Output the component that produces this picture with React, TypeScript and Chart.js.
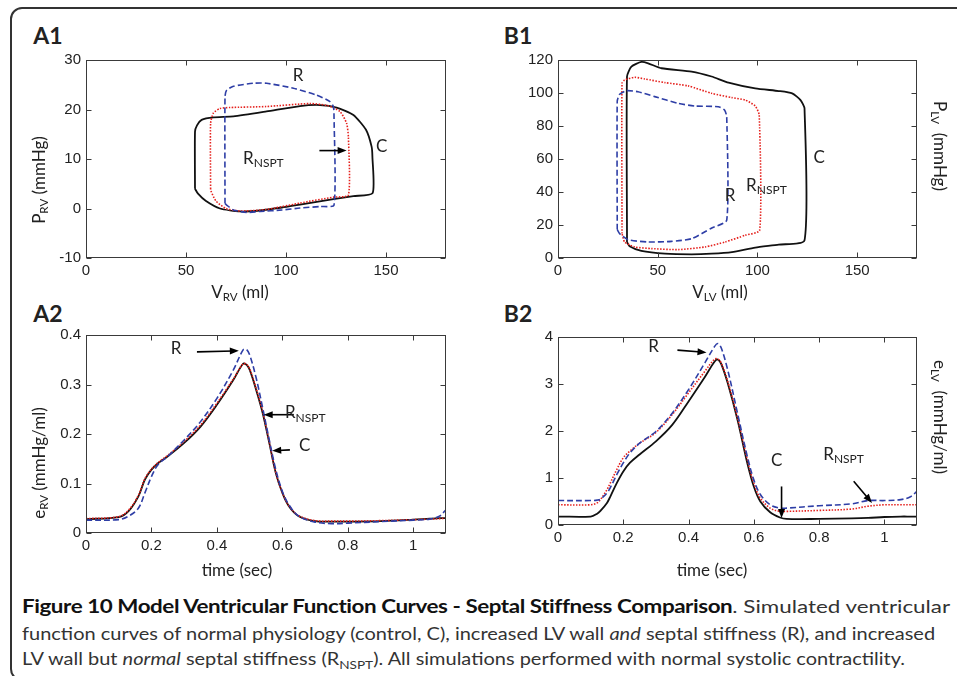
import React, { useEffect, useLayoutEffect, useRef } from "react";
import { Chart, registerables } from "chart.js";
Chart.register(...registerables);

// ---------- Data ----------
// A1: RV pressure-volume loops (V in ml, P in mmHg)
const A1_C_V = [54.5, 54.5, 55.5, 57.8, 63.7, 73.7, 90.3, 107, 117, 125.3, 133.7, 140, 142.8, 143.2, 143.3, 133.7, 123.7, 107, 98, 87, 77, 67, 60, 56, 54.5];
const A1_C_P = [4, 15.5, 16.8, 17.9, 18.4, 18.6, 19.6, 20.7, 20.9, 20.4, 18.9, 15.9, 12.5, 10.5, 3.1, 2.5, 1.9, 0.8, 0.2, -0.4, -0.6, 0, 1.5, 3, 4];
const A1_N_V = [62.3, 62.3, 63.7, 67, 72, 90, 112, 120.7, 127, 130.3, 131.2, 131.2, 123.7, 107, 90, 77, 70, 65, 62.5, 62.3];
const A1_N_P = [4, 17.2, 19.3, 20.2, 20.4, 20.6, 21.2, 20.8, 19.6, 17.2, 14.4, 2.7, 2.3, 1.1, -0.2, -0.5, 0, 1.5, 3.5, 4];
const A1_R_V = [69.5, 69.5, 70.3, 73.7, 83.7, 90.3, 103.7, 115.3, 122, 123.7, 124, 124, 117, 107, 98, 87, 80.3, 73.7, 70.3, 69.5];
const A1_R_P = [1, 22.6, 23.9, 24.7, 25.3, 25.3, 24.3, 22.9, 21.6, 20.6, 19, 0.7, 0.4, 0.1, -0.3, -0.6, -0.8, -0.3, 0.7, 1];

// B1: LV pressure-volume loops
const B1_C_V = [34.6, 34.6, 36.8, 41.8, 45.2, 51.9, 67, 77, 85.5, 98.9, 110.7, 117.4, 121.6, 123.6, 123.6, 110.7, 98.9, 87.2, 77, 67, 53.6, 41.8, 35.9, 34.6];
const B1_C_P = [9.7, 110, 116, 118.8, 118, 115, 113, 110, 106.3, 102.8, 101.2, 99.8, 95.7, 90.7, 10.7, 8.1, 6.3, 3.6, 2.6, 2.2, 2.6, 4.3, 7.1, 9.7];
const B1_N_V = [32.1, 32.1, 33.4, 38.5, 43.5, 53.6, 65.3, 77, 87.2, 93.9, 98.9, 100.9, 101.1, 93.9, 83.8, 73.7, 60.3, 46.9, 38.5, 33.4, 32.1];
const B1_N_P = [14.8, 105.9, 107.9, 109.5, 108.5, 106.3, 104.3, 99.8, 97.2, 95.7, 92.1, 86.6, 16.8, 13.8, 9.7, 6.7, 5.1, 5.7, 6.7, 9.7, 14.8];
const B1_R_V = [29.7, 29.7, 30.9, 34.3, 40.1, 48.5, 60.3, 68.7, 80.4, 83.5, 84.6, 84.6, 77.1, 67, 56.9, 45.2, 35.1, 30.9, 29.7];
const B1_R_P = [17.2, 95, 99.2, 101.4, 100.8, 97.8, 93.7, 92.1, 91.7, 89.7, 85.6, 22.9, 18.2, 11.7, 10.1, 9.7, 11.1, 14.8, 17.2];

// A2: RV elastance vs time
const A2_T = [0, 0.1, 0.13, 0.16, 0.18, 0.2, 0.22, 0.25, 0.3, 0.35, 0.4, 0.45, 0.48, 0.49, 0.5, 0.52, 0.54, 0.56, 0.58, 0.6, 0.62, 0.65, 0.7, 0.75, 0.8, 0.9, 1.0, 1.05, 1.08, 1.1];
const A2_C = [0.028, 0.032, 0.044, 0.074, 0.108, 0.128, 0.141, 0.155, 0.182, 0.215, 0.259, 0.309, 0.342, 0.34, 0.33, 0.289, 0.242, 0.182, 0.121, 0.081, 0.054, 0.034, 0.024, 0.023, 0.023, 0.024, 0.027, 0.029, 0.03, 0.03];
const A2_N = [0.029, 0.033, 0.046, 0.076, 0.11, 0.129, 0.142, 0.157, 0.185, 0.218, 0.262, 0.311, 0.342, 0.341, 0.332, 0.292, 0.245, 0.184, 0.122, 0.082, 0.055, 0.035, 0.025, 0.024, 0.024, 0.025, 0.027, 0.028, 0.029, 0.03];
const A2_R = [0.026, 0.027, 0.034, 0.05, 0.081, 0.114, 0.138, 0.155, 0.188, 0.225, 0.272, 0.329, 0.37, 0.371, 0.36, 0.313, 0.252, 0.188, 0.128, 0.084, 0.057, 0.034, 0.022, 0.019, 0.02, 0.023, 0.026, 0.028, 0.034, 0.047];

// B2: LV elastance vs time
const B2_T = [0, 0.1, 0.12, 0.13, 0.15, 0.16, 0.18, 0.2, 0.22, 0.25, 0.3, 0.35, 0.4, 0.45, 0.48, 0.49, 0.5, 0.52, 0.55, 0.58, 0.6, 0.62, 0.65, 0.68, 0.7, 0.8, 0.9, 0.95, 1.0, 1.05, 1.08, 1.1];
const B2_C = [0.18, 0.18, 0.24, 0.3, 0.47, 0.6, 0.89, 1.14, 1.32, 1.5, 1.78, 2.13, 2.63, 3.15, 3.48, 3.52, 3.43, 3.02, 2.24, 1.32, 0.82, 0.5, 0.27, 0.16, 0.13, 0.13, 0.14, 0.15, 0.17, 0.18, 0.18, 0.18];
const B2_N = [0.43, 0.43, 0.47, 0.54, 0.75, 0.89, 1.18, 1.43, 1.57, 1.74, 1.97, 2.35, 2.81, 3.27, 3.53, 3.53, 3.45, 3.06, 2.28, 1.39, 0.89, 0.57, 0.36, 0.29, 0.29, 0.31, 0.34, 0.4, 0.43, 0.43, 0.43, 0.43];
const B2_R = [0.52, 0.52, 0.53, 0.55, 0.68, 0.79, 1.07, 1.32, 1.53, 1.74, 1.99, 2.38, 2.88, 3.45, 3.8, 3.86, 3.77, 3.3, 2.38, 1.46, 0.96, 0.65, 0.43, 0.36, 0.36, 0.41, 0.45, 0.52, 0.52, 0.54, 0.6, 0.72];

// Tick values
const VOL_TICKS = [0, 50, 100, 150];
const PRV_TICKS = [-10, 0, 10, 20, 30];
const PLV_TICKS = [0, 20, 40, 60, 80, 100, 120];
const TIME_TICKS = [0, 0.2, 0.4, 0.6, 0.8, 1];
const ERV_TICKS = [0, 0.1, 0.2, 0.3, 0.4];
const ELV_TICKS = [0, 1, 2, 3, 4];

// Annotations (data coordinates)
type Note = { text: string; sub?: string; x: number; y: number };
type Arrow = { x1: number; y1: number; x2: number; y2: number };
const A1_NOTES: Note[] = [
  { text: "R", x: 106, y: 26.8 },
  { text: "R", sub: "NSPT", x: 88.7, y: 10.1 },
  { text: "C", x: 147.8, y: 12.5 },
];
const A1_ARROWS: Arrow[] = [{ x1: 116.7, y1: 11.7, x2: 130.3, y2: 11.7 }];
const B1_NOTES: Note[] = [
  { text: "R", x: 86.3, y: 38 },
  { text: "R", sub: "NSPT", x: 104.5, y: 44 },
  { text: "C", x: 131, y: 61 },
];
const B1_ARROWS: Arrow[] = [];
const A2_NOTES: Note[] = [
  { text: "R", x: 0.275, y: 0.373 },
  { text: "R", sub: "NSPT", x: 0.67, y: 0.243 },
  { text: "C", x: 0.668, y: 0.176 },
];
const A2_ARROWS: Arrow[] = [
  { x1: 0.339, y1: 0.366, x2: 0.467, y2: 0.368 },
  { x1: 0.635, y1: 0.239, x2: 0.543, y2: 0.239 },
  { x1: 0.623, y1: 0.168, x2: 0.569, y2: 0.166 },
];
const B2_NOTES: Note[] = [
  { text: "R", x: 0.293, y: 3.79 },
  { text: "C", x: 0.67, y: 1.38 },
  { text: "R", sub: "NSPT", x: 0.875, y: 1.5 },
];
const B2_ARROWS: Arrow[] = [
  { x1: 0.366, y1: 3.72, x2: 0.455, y2: 3.67 },
  { x1: 0.685, y1: 0.82, x2: 0.685, y2: 0.15 },
  { x1: 0.906, y1: 0.93, x2: 0.962, y2: 0.47 },
];

// ---------- Styles ----------
const BLUE = "#2e3ea6";
const RED = "#e5211d";
const BLACK = "#111111";
const TEXT_FONT = "Lato, 'Open Sans', sans-serif";

const zip = (xs: number[], ys: number[]) => xs.map((x, i) => ({ x, y: ys[i] }));

function frame(notes: Note[], arrows: Arrow[]) {
  return {
    id: "frame",
    afterDatasetsDraw(chart: any) {
      const { ctx, chartArea: a, scales } = chart;
      const xs = scales.x;
      const ys = scales.y;
      ctx.save();
      ctx.strokeStyle = "#3a3a3a";
      ctx.lineWidth = 1;
      const l = Math.round(a.left) + 0.5;
      const t = Math.round(a.top) + 0.5;
      const r = Math.round(a.right) - 0.5;
      const b = Math.round(a.bottom) - 0.5;
      ctx.strokeRect(l, t, r - l, b - t);
      const L = 5;
      ctx.beginPath();
      xs.ticks.forEach((tk: any) => {
        const px = Math.round(xs.getPixelForValue(tk.value)) + 0.5;
        ctx.moveTo(px, b);
        ctx.lineTo(px, b - L);
        ctx.moveTo(px, t);
        ctx.lineTo(px, t + L);
      });
      ys.ticks.forEach((tk: any) => {
        const py = Math.round(ys.getPixelForValue(tk.value)) + 0.5;
        ctx.moveTo(l, py);
        ctx.lineTo(l + L, py);
        ctx.moveTo(r, py);
        ctx.lineTo(r - L, py);
      });
      ctx.stroke();

      ctx.strokeStyle = "#000";
      ctx.fillStyle = "#000";
      ctx.lineWidth = 1.6;
      arrows.forEach((ar) => {
        const x1 = xs.getPixelForValue(ar.x1);
        const y1 = ys.getPixelForValue(ar.y1);
        const x2 = xs.getPixelForValue(ar.x2);
        const y2 = ys.getPixelForValue(ar.y2);
        const ang = Math.atan2(y2 - y1, x2 - x1);
        const h = 9;
        const w = 3.5;
        const c = Math.cos(ang);
        const s = Math.sin(ang);
        ctx.beginPath();
        ctx.moveTo(x1, y1);
        ctx.lineTo(x2 - h * c * 0.6, y2 - h * s * 0.6);
        ctx.stroke();
        ctx.beginPath();
        ctx.moveTo(x2, y2);
        ctx.lineTo(x2 - h * c + w * s, y2 - h * s - w * c);
        ctx.lineTo(x2 - h * c - w * s, y2 - h * s + w * c);
        ctx.closePath();
        ctx.fill();
      });

      ctx.fillStyle = "#222";
      ctx.textBaseline = "middle";
      ctx.textAlign = "left";
      notes.forEach((n) => {
        const px = xs.getPixelForValue(n.x);
        const py = ys.getPixelForValue(n.y);
        ctx.font = `17px ${TEXT_FONT}`;
        const w1 = ctx.measureText(n.text).width;
        let w2 = 0;
        if (n.sub) {
          ctx.font = `12px ${TEXT_FONT}`;
          w2 = ctx.measureText(n.sub).width;
        }
        const x0 = px - (w1 + w2) / 2;
        ctx.font = `17px ${TEXT_FONT}`;
        ctx.fillText(n.text, x0, py);
        if (n.sub) {
          ctx.font = `12px ${TEXT_FONT}`;
          ctx.fillText(n.sub, x0 + w1, py + 5);
        }
      });
      ctx.restore();
    },
  };
}

type PanelProps = {
  left: number;
  top: number;
  width: number;
  height: number;
  yWidth: number;
  padTop: number;
  padRight: number;
  padBottom: number;
  xMin: number;
  xMax: number;
  yMin: number;
  yMax: number;
  xTicks: number[];
  yTicks: number[];
  series: { data: { x: number; y: number }[]; color: string; dash: number[]; width: number; tension: number }[];
  notes: Note[];
  arrows: Arrow[];
};

function Panel(p: PanelProps) {
  const ref = useRef<HTMLCanvasElement | null>(null);
  useEffect(() => {
    if (!ref.current) return;
    const tickFont = { family: "'Liberation Sans', Arial, sans-serif", size: 15 };
    const chart = new Chart(ref.current, {
      type: "scatter",
      data: {
        datasets: p.series.map((s) => ({
          data: s.data,
          showLine: true,
          borderColor: s.color,
          borderDash: s.dash,
          borderWidth: s.width,
          pointRadius: 0,
          tension: s.tension,
          fill: false,
        })),
      },
      options: {
        animation: false,
        responsive: false,
        events: [],
        layout: { padding: { left: 0, right: p.padRight, top: p.padTop, bottom: p.padBottom } },
        plugins: { legend: { display: false }, tooltip: { enabled: false } },
        scales: {
          x: {
            type: "linear",
            min: p.xMin,
            max: p.xMax,
            afterBuildTicks: (s: any) => {
              s.ticks = p.xTicks.map((v) => ({ value: v }));
            },
            afterFit: (s: any) => {
              s.height = 30;
              s.paddingLeft = 0;
              s.paddingRight = 0;
            },
            grid: { display: false, drawTicks: false },
            border: { display: false },
            ticks: {
              font: tickFont,
              color: "#222",
              padding: 4,
              maxRotation: 0,
              autoSkip: false,
              callback: (v: any) => String(v),
            },
          },
          y: {
            type: "linear",
            min: p.yMin,
            max: p.yMax,
            afterBuildTicks: (s: any) => {
              s.ticks = p.yTicks.map((v) => ({ value: v }));
            },
            afterFit: (s: any) => {
              s.width = p.yWidth;
              s.paddingTop = 0;
              s.paddingBottom = 0;
            },
            grid: { display: false, drawTicks: false },
            border: { display: false },
            ticks: {
              font: tickFont,
              color: "#222",
              padding: 5,
              autoSkip: false,
              callback: (v: any) => String(v),
            },
          },
        },
      } as any,
      plugins: [frame(p.notes, p.arrows)],
    });
    return () => chart.destroy();
  }, []);
  return (
    <canvas
      ref={ref}
      width={p.width}
      height={p.height}
      style={{ position: "absolute", left: p.left, top: p.top, width: p.width, height: p.height }}
    />
  );
}

function Sub({ children }: { children: React.ReactNode }) {
  return <span style={{ fontSize: "0.68em", position: "relative", top: "0.3em" }}>{children}</span>;
}

function Label({ x, y, rot, size, children, bold }: { x: number; y: number; rot?: number; size: number; children: React.ReactNode; bold?: boolean }) {
  return (
    <div
      style={{
        position: "absolute",
        left: x,
        top: y,
        transform: `translate(-50%, -50%) rotate(${rot || 0}deg)`,
        whiteSpace: "nowrap",
        fontFamily: TEXT_FONT,
        fontSize: size,
        fontWeight: bold ? 700 : 400,
        color: "#222",
        lineHeight: 1,
      }}
    >
      {children}
    </div>
  );
}

function CaptionLine({ top, target, children }: { top: number; target: number; children: React.ReactNode }) {
  const ref = useRef<HTMLDivElement | null>(null);
  useLayoutEffect(() => {
    const el = ref.current;
    if (!el) return;
    el.style.transform = "none";
    const w = el.scrollWidth;
    el.style.transform = `scaleX(${target / w})`;
  }, []);
  return (
    <div
      ref={ref}
      style={{
        position: "absolute",
        left: 22,
        top,
        whiteSpace: "nowrap",
        transformOrigin: "0 50%",
        fontFamily: TEXT_FONT,
        fontSize: 18,
        lineHeight: "22px",
        color: "#333",
        display: "inline-block",
      }}
    >
      {children}
    </div>
  );
}

const lineStyle = {
  R: { color: BLUE, dash: [6, 3], width: 1.6 },
  N: { color: RED, dash: [1.5, 1.5], width: 1.6 },
  C: { color: BLACK, dash: [], width: 1.8 },
};

export default function App() {
  const loops = (r: any, n: any, c: any) => [
    { data: r, ...lineStyle.R, tension: 0.2 },
    { data: n, ...lineStyle.N, tension: 0.2 },
    { data: c, ...lineStyle.C, tension: 0.2 },
  ];
  const curves = (r: any, n: any, c: any) => [
    { data: r, ...lineStyle.R, tension: 0.35 },
    { data: n, ...lineStyle.N, tension: 0.35 },
    { data: c, ...lineStyle.C, tension: 0.35 },
  ];
  return (
    <div style={{ position: "fixed", left: 0, top: 0, width: 957, height: 676, background: "#fff", overflow: "hidden" }}>
      <div
        style={{
          position: "absolute",
          left: 10,
          top: 7,
          width: 980,
          height: 674,
          border: "2px solid #333",
          borderRadius: 12,
          boxSizing: "border-box",
        }}
      />
      <Label x={48} y={35} size={23} bold>A1</Label>
      <Label x={518} y={35} size={23} bold>B1</Label>
      <Label x={48} y={313} size={23} bold>A2</Label>
      <Label x={518} y={313} size={23} bold>B2</Label>

      <Panel
        left={0} top={50} width={478} height={250} yWidth={86} padTop={10} padRight={32} padBottom={12}
        xMin={0} xMax={180} yMin={-10} yMax={30} xTicks={VOL_TICKS} yTicks={PRV_TICKS}
        series={loops(zip(A1_R_V, A1_R_P), zip(A1_N_V, A1_N_P), zip(A1_C_V, A1_C_P))}
        notes={A1_NOTES} arrows={A1_ARROWS}
      />
      <Panel
        left={478} top={50} width={479} height={250} yWidth={80} padTop={10} padRight={40} padBottom={12}
        xMin={0} xMax={180} yMin={0} yMax={120} xTicks={VOL_TICKS} yTicks={PLV_TICKS}
        series={loops(zip(B1_R_V, B1_R_P), zip(B1_N_V, B1_N_P), zip(B1_C_V, B1_C_P))}
        notes={B1_NOTES} arrows={B1_ARROWS}
      />
      <Panel
        left={0} top={325} width={478} height={250} yWidth={86} padTop={10} padRight={32} padBottom={12}
        xMin={0} xMax={1.1} yMin={0} yMax={0.4} xTicks={TIME_TICKS} yTicks={ERV_TICKS}
        series={curves(zip(A2_T, A2_R), zip(A2_T, A2_N), zip(A2_T, A2_C))}
        notes={A2_NOTES} arrows={A2_ARROWS}
      />
      <Panel
        left={478} top={327} width={479} height={240} yWidth={80} padTop={10} padRight={40} padBottom={12}
        xMin={0} xMax={1.1} yMin={0} yMax={4} xTicks={TIME_TICKS} yTicks={ELV_TICKS}
        series={curves(zip(B2_T, B2_R), zip(B2_T, B2_N), zip(B2_T, B2_C))}
        notes={B2_NOTES} arrows={B2_ARROWS}
      />

      <Label x={240} y={291} size={17}>V<Sub>RV</Sub> (ml)</Label>
      <Label x={720} y={291} size={17}>V<Sub>LV</Sub> (ml)</Label>
      <Label x={237} y={569} size={17}>time (sec)</Label>
      <Label x={712} y={569} size={17}>time (sec)</Label>
      <Label x={38} y={180} size={17} rot={-90}>P<Sub>RV</Sub> (mmHg)</Label>
      <Label x={38} y={463} size={17} rot={-90}>e<Sub>RV</Sub> (mmHg/ml)</Label>
      <Label x={940} y={146} size={17} rot={90}>P<Sub>LV</Sub>&nbsp; (mmHg)</Label>
      <Label x={940} y={417} size={17} rot={90}>e<Sub>LV</Sub>&nbsp; (mmHg/ml)</Label>

      <CaptionLine top={595} target={928}>
        <b style={{ color: "#111", letterSpacing: "-0.35px" }}>Figure 10 Model Ventricular Function Curves - Septal Stiffness Comparison</b>. Simulated ventricular
      </CaptionLine>
      <CaptionLine top={622} target={913}>
        function curves of normal physiology (control, C), increased LV wall <i>and</i> septal stiffness (R), and increased
      </CaptionLine>
      <CaptionLine top={647} target={883}>
        LV wall but <i>normal</i> septal stiffness (R<Sub>NSPT</Sub>). All simulations performed with normal systolic contractility.
      </CaptionLine>
    </div>
  );
}
